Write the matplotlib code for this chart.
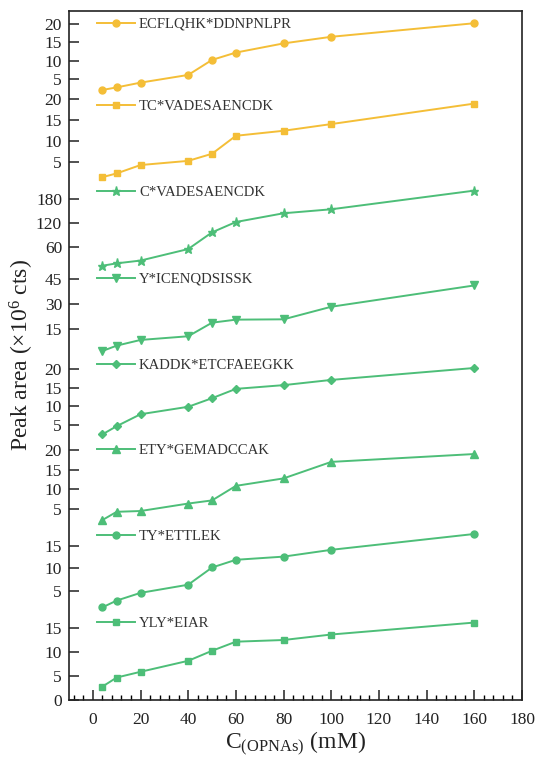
import matplotlib
matplotlib.use('Agg')
import matplotlib.pyplot as plt
from matplotlib.ticker import MultipleLocator

plt.rcParams['font.family'] = ['Liberation Serif', 'DejaVu Serif']
plt.rcParams['mathtext.fontset'] = 'custom'
plt.rcParams['mathtext.rm'] = 'Liberation Serif'
plt.rcParams['mathtext.it'] = 'Liberation Serif:italic'

# concentrations (mM)
conc = [4, 10, 20, 40, 50, 60, 80, 100, 160]

# peptide names, top to bottom
peptides = ['ECFLQHK*DDNPNLPR', 'TC*VADESAENCDK', 'C*VADESAENCDK', 'Y*ICENQDSISSK',
            'KADDK*ETCFAEEGKK', 'ETY*GEMADCCAK', 'TY*ETTLEK', 'YLY*EIAR']

# peak areas (x10^6 cts)
ecflqhk = [2.0, 2.7, 4.0, 6.1, 10.2, 12.2, 14.7, 16.5, 20.2]
tc_vades = [1.3, 2.2, 4.2, 5.2, 6.9, 11.2, 12.4, 14.0, 18.9]
c_vades = [12, 18, 25, 54, 96, 122, 144, 154, 201]
y_icenq = [1.9, 5.1, 8.5, 10.7, 18.8, 20.6, 20.8, 28.3, 41]
kaddk = [2.5, 4.7, 7.9, 9.9, 12.2, 14.7, 15.7, 17.1, 20.3]
ety = [2.2, 4.3, 4.5, 6.4, 7.2, 10.9, 12.8, 17.0, 19.0]
ty = [1.4, 2.9, 4.6, 6.4, 10.2, 11.9, 12.6, 14.1, 17.6]
yly = [2.8, 4.7, 5.9, 8.2, 10.3, 12.2, 12.55, 13.7, 16.2]
series = [ecflqhk, tc_vades, c_vades, y_icenq, kaddk, ety, ty, yly]

# y tick labels per panel
yticks = [[5, 10, 15, 20], [5, 10, 15, 20], [60, 120, 180], [15, 30, 45],
          [5, 10, 15, 20], [5, 10, 15, 20], [5, 10, 15], [0, 5, 10, 15]]

# styles
yellow = '#F4BE37'
green = '#4DBE78'
colors = [yellow, yellow] + [green] * 6
markers = ['o', 's', '*', 'v', 'D', '^', 'o', 's']
msizes = [5, 5, 6.5, 5.5, 4.5, 5.5, 5, 5]

# layout: pixel row of zero and pixels per unit for each stacked layer
W, H = 537, 758
left_px, right_px, top_px, bot_px = 69, 522, 11, 700
zero_px = [97.3, 182.6, 270.5, 354.2, 443.7, 528.7, 613.7, 700]
px_per_unit = [3.667, 4.18, 0.3975, 1.677, 3.73, 3.93, 4.53, 4.78]
legend_px = [24, 106, 192, 279, 365, 450, 536, 623]

fig = plt.figure(figsize=(W / 100, H / 100), dpi=100)
rect = [left_px / W, 1 - bot_px / H, (right_px - left_px) / W, (bot_px - top_px) / H]

# frame with the shared x axis
frame = fig.add_axes(rect)
frame.set_xlim(-10, 180)
frame.set_ylim(0, 1)
frame.xaxis.set_minor_locator(MultipleLocator(4))
frame.set_xticks(range(0, 181, 20))
frame.tick_params(axis='x', which='major', direction='in', length=7, width=1.1,
                  labelsize=12.5, pad=9, colors='#222222')
frame.tick_params(axis='x', which='minor', direction='in', length=3.5, width=1.0)
frame.set_yticks([])
for sp in frame.spines.values():
    sp.set_linewidth(1.2)
    sp.set_color('#222222')
frame.set_xlabel('C$_{\\mathregular{(OPNAs)}}$ (mM)', fontsize=17, labelpad=1, color='#222222')
fig.text(0.04, (1 - bot_px / H + 1 - top_px / H) / 2, 'Peak area (×10$^{6}$ cts)',
         rotation=90, va='center', ha='center', fontsize=17, color='#222222')

span = bot_px - top_px
for i in range(8):
    ax = fig.add_axes(rect, label='layer%d' % i)
    ax.patch.set_alpha(0)
    for sp in ax.spines.values():
        sp.set_visible(False)
    lo = (zero_px[i] - bot_px) / px_per_unit[i]
    hi = (zero_px[i] - top_px) / px_per_unit[i]
    ax.set_ylim(lo, hi)
    ax.set_xlim(-10, 180)
    ax.set_xticks([])
    ax.set_yticks(yticks[i])
    ax.tick_params(axis='y', direction='in', length=7, width=1.1, labelsize=12.5,
                   pad=5, colors='#222222')
    ax.plot(conc, series[i], color=colors[i], marker=markers[i], markersize=msizes[i],
            linewidth=1.4, label=peptides[i])
    frac = (bot_px - legend_px[i]) / span
    ax.legend(loc='center left', bbox_to_anchor=(0.062, frac), frameon=False,
              borderpad=0, borderaxespad=0, handlelength=2.6, handletextpad=0.25,
              fontsize=10.6, labelcolor='#333333')

fig.savefig('out.png', dpi=100)
